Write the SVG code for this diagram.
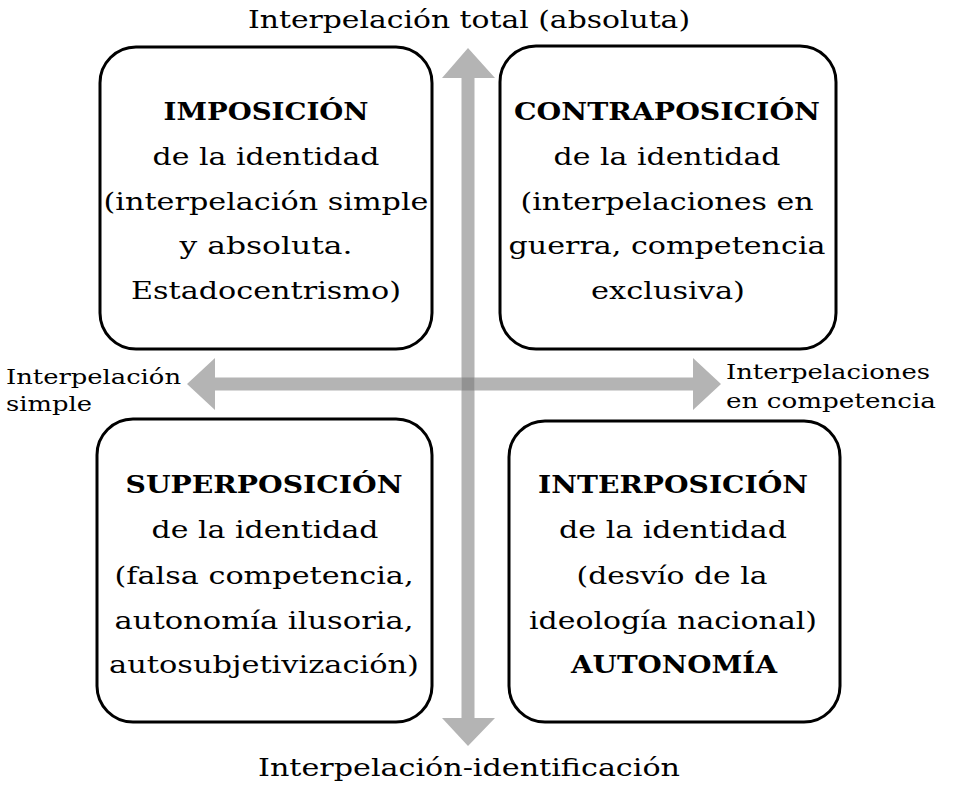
<svg xmlns="http://www.w3.org/2000/svg" width="959" height="793" viewBox="0 0 959 793">
<style>
.box{fill:#fff;stroke:#000;stroke-width:3}
.t{font-family:"DejaVu Serif","Liberation Serif",serif;font-size:25px;fill:#000;text-anchor:middle}
.b{font-weight:bold}
.ax{font-family:"DejaVu Serif","Liberation Serif",serif;font-size:24px;fill:#000;text-anchor:middle}
.side{font-family:"DejaVu Serif","Liberation Serif",serif;font-size:21px;fill:#000}
.arr{fill:#777;fill-opacity:0.55}
</style>
<rect width="959" height="793" fill="#fff"/>
<g id="box1">
<rect class="box" x="100" y="47" width="332" height="302" rx="36"/>
<text class="t b" x="266" y="120" textLength="205" lengthAdjust="spacingAndGlyphs">IMPOSICIÓN</text>
<text class="t" x="266" y="165" textLength="227" lengthAdjust="spacingAndGlyphs">de la identidad</text>
<text class="t" x="266" y="210" textLength="325" lengthAdjust="spacingAndGlyphs">(interpelación simple</text>
<text class="t" x="266" y="254" textLength="173" lengthAdjust="spacingAndGlyphs">y absoluta.</text>
<text class="t" x="266" y="299" textLength="270" lengthAdjust="spacingAndGlyphs">Estadocentrismo)</text>
</g>
<g id="box2">
<rect class="box" x="500" y="46" width="336" height="303" rx="36"/>
<text class="t b" x="667" y="120" textLength="306" lengthAdjust="spacingAndGlyphs">CONTRAPOSICIÓN</text>
<text class="t" x="667" y="165" textLength="227" lengthAdjust="spacingAndGlyphs">de la identidad</text>
<text class="t" x="667" y="210" textLength="293" lengthAdjust="spacingAndGlyphs">(interpelaciones en</text>
<text class="t" x="667" y="254" textLength="317" lengthAdjust="spacingAndGlyphs">guerra, competencia</text>
<text class="t" x="668" y="299" textLength="154" lengthAdjust="spacingAndGlyphs">exclusiva)</text>
</g>
<g id="box3">
<rect class="box" x="97" y="419" width="335" height="303" rx="36"/>
<text class="t b" x="264" y="493" textLength="277" lengthAdjust="spacingAndGlyphs">SUPERPOSICIÓN</text>
<text class="t" x="265" y="538" textLength="227" lengthAdjust="spacingAndGlyphs">de la identidad</text>
<text class="t" x="264" y="584" textLength="299" lengthAdjust="spacingAndGlyphs">(falsa competencia,</text>
<text class="t" x="264" y="629" textLength="299" lengthAdjust="spacingAndGlyphs">autonomía ilusoria,</text>
<text class="t" x="264" y="673" textLength="310" lengthAdjust="spacingAndGlyphs">autosubjetivización)</text>
</g>
<g id="box4">
<rect class="box" x="509" y="421" width="331" height="301" rx="36"/>
<text class="t b" x="673" y="493" textLength="270" lengthAdjust="spacingAndGlyphs">INTERPOSICIÓN</text>
<text class="t" x="673" y="538" textLength="228" lengthAdjust="spacingAndGlyphs">de la identidad</text>
<text class="t" x="672" y="584" textLength="191" lengthAdjust="spacingAndGlyphs">(desvío de la</text>
<text class="t" x="673" y="629" textLength="288" lengthAdjust="spacingAndGlyphs">ideología nacional)</text>
<text class="t b" x="674" y="673" textLength="206" lengthAdjust="spacingAndGlyphs">AUTONOMÍA</text>
</g>
<g id="connectors">
<path class="arr" d="M461.5,78 L442,78 L468,48 L495,78 L474.5,78 L474.5,718 L495,718 L468,746 L442,718 L461.5,718 Z"/>
<path class="arr" d="M215,377.5 L215,358 L187,384 L215,410 L215,390.5 L461.5,390.5 L461.5,377.5 Z M474.5,377.5 L474.5,390.5 L693,390.5 L693,410 L721,384 L693,358 L693,377.5 Z"/>
<path class="arr" d="M461.5,377.5 L474.5,377.5 L474.5,390.5 L461.5,390.5 Z"/>
</g>
<g id="labels">
<text class="ax" x="469" y="28" textLength="442" lengthAdjust="spacingAndGlyphs">Interpelación total (absoluta)</text>
<text class="ax" x="469" y="776" textLength="422" lengthAdjust="spacingAndGlyphs">Interpelación-identificación</text>
<text class="side" x="6" y="384" textLength="175" lengthAdjust="spacingAndGlyphs">Interpelación</text>
<text class="side" x="6" y="411" textLength="86" lengthAdjust="spacingAndGlyphs">simple</text>
<text class="side" x="726" y="379" textLength="204" lengthAdjust="spacingAndGlyphs">Interpelaciones</text>
<text class="side" x="726" y="408" textLength="210" lengthAdjust="spacingAndGlyphs">en competencia</text>
</g>
</svg>
